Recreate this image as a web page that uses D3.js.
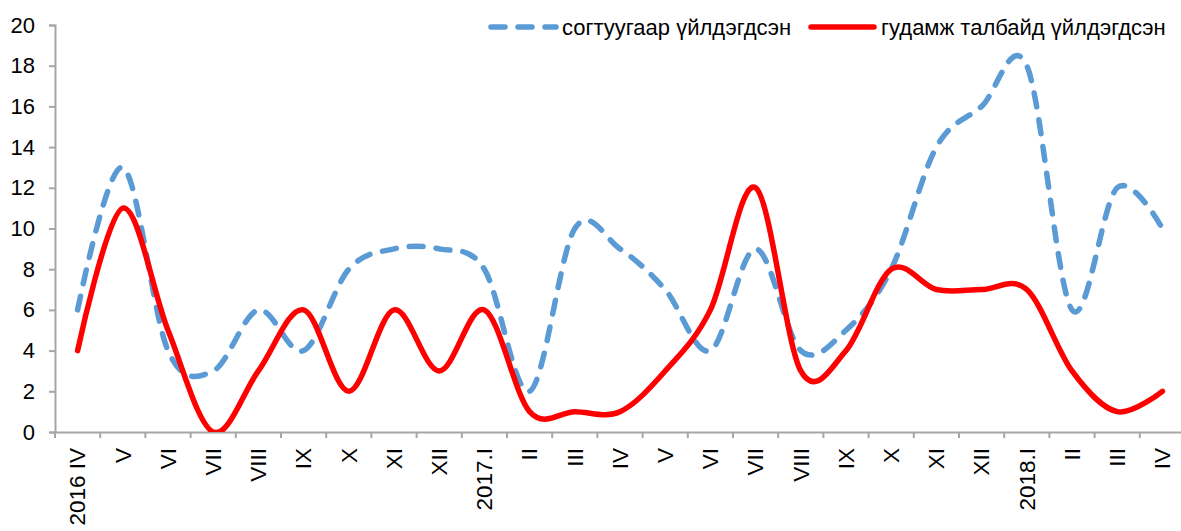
<!DOCTYPE html>
<html>
<head>
<meta charset="utf-8">
<script src="https://cdn.jsdelivr.net/npm/d3@7"></script>
<style>
  body { margin: 0; background: #fff; }
  svg { font-family: "Liberation Sans", Arial, sans-serif; }
</style>
</head>
<body>
<svg width="1181" height="531"></svg>
<script>
var categories = ["2016 IV", "V", "VI", "VII", "VIII", "IX", "X", "XI", "XII", "2017.I", "II", "III", "IV",
                  "V ", "VI ", "VII ", "VIII ", "IX ", "X ", "XI ", "XII ", "2018.I", "II ", "III ", "IV "];
var drunk  = [6, 13, 4, 3, 6, 4, 8, 9, 9, 8, 2, 10, 9, 7, 4, 9, 4, 5, 8, 14, 16, 18, 6, 12, 10];
var street = [4, 11, 5, 0, 3, 6, 2, 6, 3, 6, 1, 1, 1, 3, 6, 12, 3, 4, 8, 7, 7, 7, 3, 1, 2];
var seriesNames = ["согтуугаар үйлдэгдсэн", "гудамж талбайд үйлдэгдсэн"];
var yTicks = [0, 2, 4, 6, 8, 10, 12, 14, 16, 18, 20];

var svg = d3.select("svg");
var plotLeft = 55, plotTop = 25, plotBottom = 432, step = 45.2;
var fontSize = "22px";

var x = d3.scaleBand().domain(categories).range([plotLeft, plotLeft + step * categories.length]);
var y = d3.scaleLinear().domain([0, 20]).range([plotBottom, plotTop]);

svg.append("defs").append("clipPath").attr("id", "plot")
  .append("rect").attr("x", plotLeft).attr("y", plotTop - 5)
  .attr("width", 1200).attr("height", plotBottom - plotTop + 5);

// y axis
var yAx = svg.append("g").attr("transform", "translate(" + plotLeft + ",0)")
  .call(d3.axisLeft(y).tickValues(yTicks).tickSize(6).tickPadding(14));
yAx.select(".domain").attr("stroke", "#a6a6a6").attr("stroke-width", 2);
yAx.selectAll(".tick line").attr("stroke", "#a6a6a6").attr("stroke-width", 2);
yAx.selectAll("text").attr("font-size", fontSize).attr("fill", "#000");

// x axis, ticks sit between categories
var xAx = svg.append("g").attr("transform", "translate(0," + plotBottom + ")")
  .call(d3.axisBottom(x).tickSize(0).tickSizeOuter(0));
xAx.select(".domain").attr("stroke", "#a6a6a6").attr("stroke-width", 2);
xAx.selectAll(".tick text")
  .attr("transform", "rotate(-90)")
  .attr("text-anchor", "end")
  .attr("x", -16).attr("y", 0).attr("dy", "0.35em")
  .attr("font-size", "22.5px").attr("fill", "#000");
xAx.selectAll(".sep").data(categories).enter().append("line")
  .attr("x1", function(d) { return x(d); }).attr("x2", function(d) { return x(d); })
  .attr("y1", 0).attr("y2", 6)
  .attr("stroke", "#a6a6a6").attr("stroke-width", 2);

var line = d3.line()
  .x(function(d, i) { return x(categories[i]) + x.bandwidth() / 2; })
  .y(function(d) { return y(d); })
  .curve(d3.curveCardinal.tension(0));

var g = svg.append("g").attr("clip-path", "url(#plot)");
g.append("path").datum(drunk).attr("d", line)
  .attr("fill", "none").attr("stroke", "#5b9bd5").attr("stroke-width", 5.5)
  .attr("stroke-dasharray", "14,13").attr("stroke-linecap", "round");
g.append("path").datum(street).attr("d", line)
  .attr("fill", "none").attr("stroke", "#ff0000").attr("stroke-width", 5.5)
  .attr("stroke-linecap", "round");

// legend
var leg = svg.append("g");
leg.append("line").attr("x1", 491).attr("x2", 556).attr("y1", 27).attr("y2", 27)
  .attr("stroke", "#5b9bd5").attr("stroke-width", 5.5)
  .attr("stroke-dasharray", "14,13").attr("stroke-linecap", "round");
leg.append("text").attr("x", 562).attr("y", 27).attr("dy", "0.35em")
  .attr("font-size", fontSize).text(seriesNames[0]);
leg.append("line").attr("x1", 811).attr("x2", 874).attr("y1", 27).attr("y2", 27)
  .attr("stroke", "#ff0000").attr("stroke-width", 5.5).attr("stroke-linecap", "round");
leg.append("text").attr("x", 881).attr("y", 27).attr("dy", "0.35em")
  .attr("font-size", fontSize).text(seriesNames[1]);
</script>
</body>
</html>
